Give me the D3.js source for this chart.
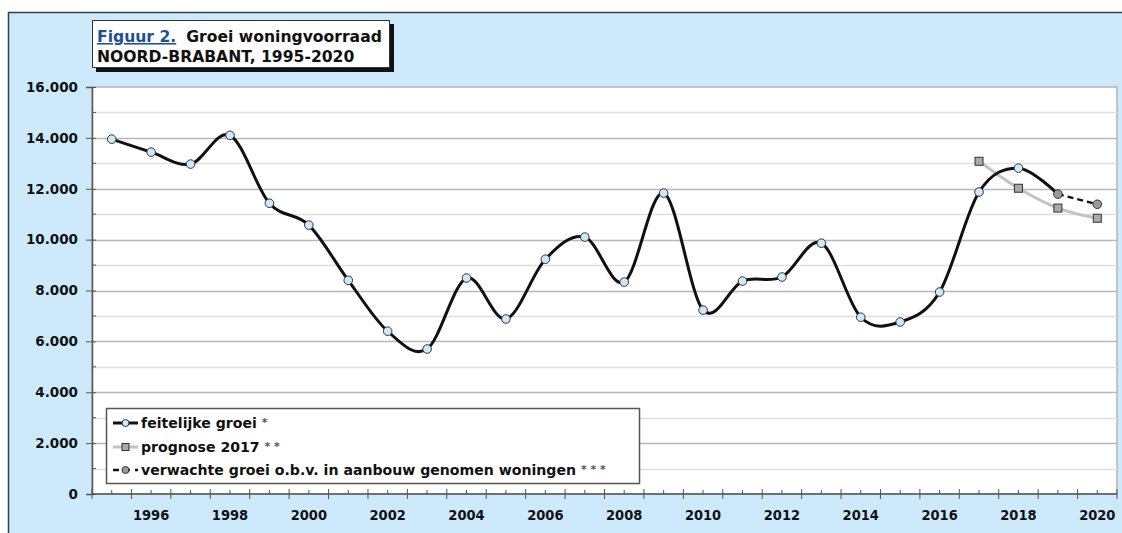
<!DOCTYPE html>
<meta charset="utf-8">
<head>
    <script src="https://d3js.org/d3.v7.min.js"></script>
</head>
<style>
    body { margin: 0; background: #fff; }
    svg { display: block; font-family: "DejaVu Sans", sans-serif; font-weight: bold; }
</style>
<body>
<script>
    'use strict';

    const years = d3.range(1995, 2021);
    const labelYears = d3.range(1996, 2021, 2);
    const yTicks = d3.range(0, 16001, 2000);

    // feitelijke groei 1995-2019
    const actualYears = d3.range(1995, 2020);
    const actual = [13950, 13440, 12970, 14100, 11430, 10570, 8400, 6400, 5700, 8490,
        6880, 9230, 10100, 8330, 11830, 7230, 8370, 8530, 9860, 6950,
        6760, 7940, 11870, 12810, 11790];

    const forecastYears = [2017, 2018, 2019, 2020];
    const forecast = [13080, 12020, 11240, 10840];

    const expectedYears = [2019, 2020];
    const expected = [11790, 11390];

    const width = 1122, height = 533,
        plot = { left: 92, right: 1117, top: 87, bottom: 494 };

    const svg = d3.select("body").append("svg")
        .attr("width", width).attr("height", height);

    // light blue frame
    svg.append("rect")
        .attr("x", 8.5).attr("y", 12.5)
        .attr("width", width + 10).attr("height", height + 10)
        .attr("fill", "#cdeafd").attr("stroke", "#3a3f44").attr("stroke-width", 1.5);

    const xBand = d3.scaleBand().domain(years).range([plot.left, plot.right]);
    const xc = (yr) => xBand(yr) + xBand.bandwidth() / 2;
    const y = d3.scaleLinear().domain([0, 16000]).range([plot.bottom, plot.top]);

    // plot area
    svg.append("rect")
        .attr("x", plot.left).attr("y", plot.top)
        .attr("width", plot.right - plot.left).attr("height", plot.bottom - plot.top)
        .attr("fill", "#fff").attr("stroke", "#b4b4b4").attr("stroke-width", 1.5);

    // gridlines: every 1000, darker on 2000
    svg.append("g").selectAll("line")
        .data(d3.range(1000, 16000, 1000))
        .join("line")
        .attr("x1", plot.left).attr("x2", plot.right)
        .attr("y1", (d) => Math.round(y(d)) + 0.5).attr("y2", (d) => Math.round(y(d)) + 0.5)
        .attr("stroke", (d) => d % 2000 === 0 ? "#b8b8b8" : "#e0e0e0")
        .attr("stroke-width", 1.5);

    // y axis
    const yAxis = svg.append("g")
        .attr("transform", `translate(${plot.left},0)`)
        .call(d3.axisLeft(y).tickValues(yTicks).tickSize(6)
            .tickFormat((d) => d3.format(",")(d).replace(/,/g, ".")));
    yAxis.select(".domain").attr("stroke", "#555").attr("stroke-width", 1.5);
    yAxis.selectAll(".tick line").attr("stroke", "#555").attr("x2", 4).attr("x1", -6);
    yAxis.selectAll(".tick text")
        .attr("x", -14).attr("font-size", 13.5).attr("font-weight", "bold")
        .attr("font-family", "DejaVu Sans, sans-serif").attr("fill", "#111");
    yAxis.selectAll(".minor").data(d3.range(1000, 16000, 2000)).join("line")
        .attr("x1", 0).attr("x2", 4)
        .attr("y1", (d) => y(d)).attr("y2", (d) => y(d))
        .attr("stroke", "#555");

    // x axis
    const xAxis = svg.append("g").attr("transform", `translate(0,${plot.bottom})`);
    xAxis.append("line")
        .attr("x1", plot.left).attr("x2", plot.right)
        .attr("stroke", "#555").attr("stroke-width", 1.5);
    xAxis.selectAll(".major").data(years.concat([2021])).join("line")
        .attr("x1", (d) => d === 2021 ? plot.right : xBand(d))
        .attr("x2", (d) => d === 2021 ? plot.right : xBand(d))
        .attr("y1", -5).attr("y2", 5).attr("stroke", "#555");
    xAxis.selectAll(".minorx").data(years).join("line")
        .attr("x1", xc).attr("x2", xc)
        .attr("y1", -4).attr("y2", 0).attr("stroke", "#555");
    xAxis.selectAll("text").data(labelYears).join("text")
        .attr("x", xc).attr("y", 26)
        .attr("text-anchor", "middle")
        .attr("font-family", "DejaVu Sans Condensed, DejaVu Sans, sans-serif")
        .attr("font-size", 14.5).attr("fill", "#111")
        .text((d) => d);

    const smooth = d3.line()
        .x((d) => xc(d[0])).y((d) => y(d[1]))
        .curve(d3.curveCardinal.tension(0));

    const g = svg.append("g");

    // prognose 2017
    const fc = d3.zip(forecastYears, forecast);
    g.append("path").attr("d", smooth(fc))
        .attr("fill", "none").attr("stroke", "#c3c3c3").attr("stroke-width", 3);

    // verwachte groei
    const ex = d3.zip(expectedYears, expected);
    g.append("path").attr("d", d3.line().x((d) => xc(d[0])).y((d) => y(d[1]))(ex))
        .attr("fill", "none").attr("stroke", "#111").attr("stroke-width", 2.5)
        .attr("stroke-dasharray", "6,4");

    // feitelijke groei
    const ac = d3.zip(actualYears, actual);
    g.append("path").attr("d", smooth(ac))
        .attr("fill", "none").attr("stroke", "#111").attr("stroke-width", 3);

    g.selectAll(".sq").data(fc).join("rect")
        .attr("x", (d) => xc(d[0]) - 4).attr("y", (d) => y(d[1]) - 4)
        .attr("width", 8).attr("height", 8)
        .attr("fill", "#aaaaaa").attr("stroke", "#333").attr("stroke-width", 1);

    g.selectAll(".ac").data(ac).join("circle")
        .attr("cx", (d) => xc(d[0])).attr("cy", (d) => y(d[1])).attr("r", 4.3)
        .attr("fill", (d) => d[0] === 2019 ? "#9a9a9a" : "#cde9f9")
        .attr("stroke", "#333").attr("stroke-width", 1);

    g.selectAll(".ex").data(ex.slice(1)).join("circle")
        .attr("cx", (d) => xc(d[0])).attr("cy", (d) => y(d[1])).attr("r", 4.3)
        .attr("fill", "#9a9a9a").attr("stroke", "#333").attr("stroke-width", 1);

    // legend
    const lg = svg.append("g");
    lg.append("rect")
        .attr("x", 106.5).attr("y", 408.5).attr("width", 533).attr("height", 75)
        .attr("fill", "#fff").attr("stroke", "#555").attr("stroke-width", 1.5);

    const legendRows = [
        { label: "feitelijke groei", stars: "*", y: 423 },
        { label: "prognose 2017", stars: "* *", y: 447 },
        { label: "verwachte groei o.b.v. in aanbouw genomen woningen", stars: "* * *", y: 470 }
    ];
    legendRows.forEach((r, i) => {
        const line = lg.append("line")
            .attr("x1", 113).attr("x2", 138).attr("y1", r.y).attr("y2", r.y);
        if (i === 0) line.attr("stroke", "#111").attr("stroke-width", 3);
        if (i === 1) line.attr("stroke", "#c3c3c3").attr("stroke-width", 3);
        if (i === 2) line.attr("stroke", "#111").attr("stroke-width", 2.5).attr("stroke-dasharray", "6,5");
        if (i === 1) {
            lg.append("rect").attr("x", 122).attr("y", r.y - 3.5).attr("width", 7).attr("height", 7)
                .attr("fill", "#aaa").attr("stroke", "#333");
        } else {
            lg.append("circle").attr("cx", 125.5).attr("cy", r.y).attr("r", 3.5)
                .attr("fill", i === 0 ? "#cde9f9" : "#9a9a9a").attr("stroke", "#333");
        }
        const t = lg.append("text").attr("x", 141).attr("y", r.y + 5)
            .attr("font-size", 14.1).attr("fill", "#111");
        t.append("tspan").text(r.label + " ");
        t.append("tspan").attr("fill", "#555").attr("font-size", 11).attr("dy", -2).text(r.stars);
    });

    // title box
    const tb = svg.append("g");
    tb.append("rect").attr("x", 96).attr("y", 24).attr("width", 298).attr("height", 48).attr("fill", "#111");
    tb.append("rect").attr("x", 92.5).attr("y", 20.5).attr("width", 297).attr("height", 47)
        .attr("fill", "#fff").attr("stroke", "#333").attr("stroke-width", 1);
    const t1 = tb.append("text").attr("x", 97).attr("y", 42).attr("font-size", 15.6).attr("fill", "#111");
    t1.append("tspan").attr("fill", "#1e4f9a").attr("text-decoration", "underline").text("Figuur 2.");
    t1.append("tspan").attr("dx", 10).text("Groei woningvoorraad");
    tb.append("text").attr("x", 97).attr("y", 62).attr("font-size", 15.6).attr("fill", "#111")
        .text("NOORD-BRABANT, 1995-2020");
</script>
</body>
